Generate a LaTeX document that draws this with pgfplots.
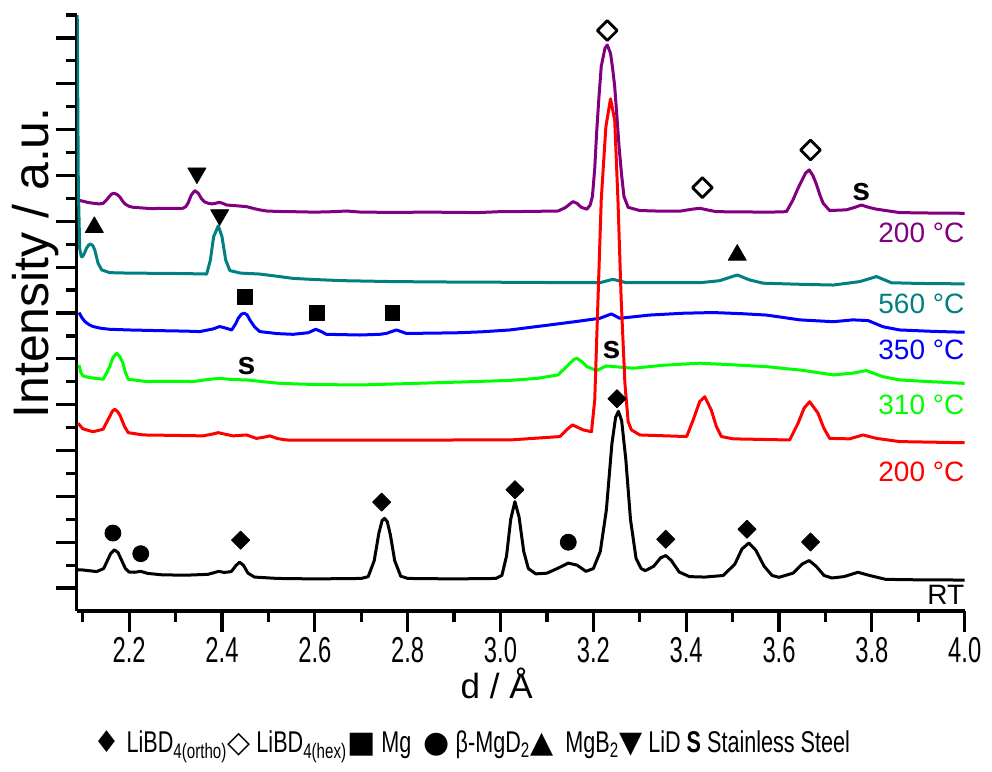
\documentclass[border=0pt]{standalone}
\usepackage{fontspec}
\setmainfont{Liberation Sans}
\newfontfamily\narrowfont[FakeStretch=0.66]{Liberation Sans}
\newfontfamily\legfont[FakeStretch=0.72]{Liberation Sans}
\newfontfamily\symfont{DejaVu Sans}
\usepackage{pgfplots}
\pgfplotsset{compat=1.18}
\definecolor{cpurple}{RGB}{128,0,128}
\definecolor{cteal}{RGB}{0,128,128}
\definecolor{cblue}{RGB}{0,0,255}
\definecolor{cgreen}{RGB}{0,255,0}
\definecolor{cred}{RGB}{255,0,0}
\begin{document}
\begin{tikzpicture}
\begin{axis}[
  name=ax,
  scale only axis, width=444pt, height=298pt,
  xmin=2.087, xmax=4.0, ymin=0, ymax=26,
  axis x line*=bottom, axis y line*=left,
  axis line style={line width=1.8pt, -},
  tick align=outside,
  xtick={2.2,2.4,2.6,2.8,3.0,3.2,3.4,3.6,3.8,4.0},
  xticklabels={2.2,2.4,2.6,2.8,3.0,3.2,3.4,3.6,3.8,4.0},
  minor xtick={2.1,2.3,2.5,2.7,2.9,3.1,3.3,3.5,3.7,3.9},
  ytick={1,3,...,25}, minor ytick={2,4,...,26},
  yticklabels={},
  major tick length=10.5pt, minor tick length=5.5pt,
  every tick/.style={black, line width=1.6pt},
  xticklabel style={font=\narrowfont\fontsize{18}{18}\selectfont, yshift=1pt},
  xlabel={d / Å},
  xlabel style={font=\fontsize{17.5}{17.5}\selectfont, inner sep=0pt, at={(rel axis cs:0.473,-0.122)}, anchor=center},
  ylabel={Intensity / a.u.},
  ylabel style={font=\fontsize{25}{25}\selectfont, at={(rel axis cs:-0.046,0.584)}, anchor=center},
  clip mode=individual,
  every axis plot/.append style={line width=1.5pt, line join=round},
]
% 200 C (purple, upper)
\addplot[cpurple, mark=none] coordinates {
(2.088,17.93)(2.100,17.88)(2.112,17.82)(2.122,17.79)(2.135,17.76)(2.144,17.78)(2.152,17.95)(2.158,18.10)(2.163,18.20)(2.168,18.22)(2.174,18.17)(2.180,18.06)(2.186,17.88)(2.191,17.76)(2.200,17.65)(2.209,17.61)(2.230,17.58)(2.250,17.55)(2.266,17.57)(2.290,17.56)(2.316,17.57)(2.322,17.64)(2.327,17.80)(2.334,18.15)(2.3415,18.34)(2.349,18.22)(2.356,17.98)(2.363,17.84)(2.370,17.79)(2.378,17.76)(2.385,17.78)(2.394,17.83)(2.402,17.78)(2.410,17.71)(2.430,17.68)(2.453,17.64)(2.470,17.55)(2.481,17.50)(2.496,17.45)(2.520,17.43)(2.553,17.42)(2.600,17.40)(2.640,17.42)(2.668,17.45)(2.700,17.40)(2.769,17.39)(2.850,17.40)(2.950,17.38)(2.998,17.42)(3.060,17.43)(3.124,17.45)(3.140,17.60)(3.156,17.86)(3.165,17.78)(3.174,17.61)(3.186,17.53)(3.193,17.70)(3.198,18.08)(3.203,19.3)(3.207,20.84)(3.212,22.4)(3.217,23.75)(3.225,24.55)(3.230,24.69)(3.237,24.33)(3.242,23.6)(3.246,22.88)(3.251,21.5)(3.256,20.11)(3.261,19.0)(3.266,18.08)(3.275,17.61)(3.300,17.47)(3.350,17.44)(3.386,17.44)(3.410,17.52)(3.429,17.57)(3.445,17.50)(3.465,17.42)(3.520,17.41)(3.580,17.40)(3.616,17.42)(3.630,17.93)(3.640,18.40)(3.648,18.73)(3.657,19.10)(3.665,19.24)(3.673,19.00)(3.681,18.59)(3.688,18.15)(3.695,17.79)(3.709,17.47)(3.745,17.50)(3.765,17.62)(3.777,17.71)(3.795,17.60)(3.810,17.53)(3.860,17.38)(3.930,17.36)(4.000,17.35)};
% 560 C (teal)
\addplot[cteal, mark=none] coordinates {
(2.0875,28)(2.0905,18.5)(2.0935,15.8)(2.0970,15.45)(2.0997,15.46)(2.104,15.62)(2.108,15.82)(2.113,15.97)(2.117,16.01)(2.122,15.93)(2.126,15.75)(2.133,15.17)(2.141,14.88)(2.158,14.76)(2.200,14.74)(2.266,14.73)(2.320,14.72)(2.367,14.70)(2.375,15.31)(2.382,16.33)(2.392,16.80)(2.400,16.33)(2.408,15.31)(2.417,14.85)(2.440,14.74)(2.481,14.70)(2.520,14.60)(2.553,14.51)(2.600,14.46)(2.661,14.41)(2.769,14.37)(2.900,14.35)(3.020,14.34)(3.100,14.33)(3.214,14.32)(3.242,14.47)(3.271,14.32)(3.350,14.33)(3.429,14.32)(3.472,14.41)(3.510,14.66)(3.537,14.44)(3.566,14.30)(3.650,14.25)(3.717,14.22)(3.774,14.37)(3.810,14.59)(3.842,14.32)(3.900,14.29)(4.000,14.27)};
% 350 C (blue)
\addplot[cblue, mark=none] coordinates {
(2.092,13.02)(2.098,12.80)(2.105,12.62)(2.113,12.50)(2.122,12.41)(2.140,12.33)(2.158,12.29)(2.200,12.26)(2.266,12.23)(2.320,12.21)(2.352,12.19)(2.380,12.30)(2.395,12.41)(2.410,12.33)(2.421,12.26)(2.430,12.55)(2.435,12.77)(2.442,12.95)(2.448,12.99)(2.454,12.92)(2.460,12.70)(2.470,12.40)(2.481,12.19)(2.520,12.10)(2.553,12.07)(2.586,12.14)(2.602,12.29)(2.615,12.18)(2.625,12.07)(2.697,12.04)(2.740,12.07)(2.754,12.11)(2.776,12.26)(2.797,12.11)(2.850,12.12)(2.912,12.14)(2.960,12.18)(3.020,12.26)(3.106,12.48)(3.160,12.62)(3.214,12.77)(3.239,12.96)(3.257,12.77)(3.321,12.91)(3.394,12.99)(3.458,13.02)(3.520,12.97)(3.573,12.91)(3.645,12.70)(3.717,12.62)(3.759,12.70)(3.792,12.67)(3.824,12.40)(3.860,12.26)(3.930,12.20)(4.000,12.16)};
% 310 C (green)
\addplot[cgreen, mark=none] coordinates {
(2.092,10.73)(2.096,10.40)(2.101,10.25)(2.115,10.18)(2.144,10.11)(2.152,10.40)(2.158,10.66)(2.165,11.05)(2.173,11.24)(2.180,11.10)(2.186,10.85)(2.192,10.40)(2.198,10.11)(2.237,10.01)(2.300,10.02)(2.338,10.01)(2.370,10.10)(2.395,10.15)(2.420,10.10)(2.453,10.08)(2.490,10.00)(2.525,9.93)(2.600,9.88)(2.697,9.86)(2.800,9.92)(2.900,9.98)(3.020,10.06)(3.080,10.15)(3.124,10.30)(3.146,10.73)(3.158,10.98)(3.165,11.02)(3.175,10.88)(3.186,10.66)(3.207,10.49)(3.228,10.69)(3.286,10.59)(3.350,10.72)(3.429,10.81)(3.500,10.74)(3.573,10.66)(3.650,10.50)(3.717,10.30)(3.760,10.38)(3.788,10.49)(3.824,10.22)(3.860,10.08)(3.930,10.00)(4.000,9.93)};
% 200 C (red, lower)
\addplot[cred, mark=none] coordinates {
(2.090,8.19)(2.100,7.95)(2.122,7.82)(2.144,7.93)(2.152,8.25)(2.158,8.48)(2.164,8.72)(2.169,8.80)(2.175,8.70)(2.180,8.55)(2.190,8.05)(2.198,7.78)(2.230,7.68)(2.300,7.66)(2.359,7.64)(2.380,7.72)(2.392,7.78)(2.405,7.72)(2.424,7.64)(2.453,7.68)(2.474,7.53)(2.490,7.58)(2.503,7.64)(2.520,7.52)(2.539,7.46)(2.700,7.45)(2.900,7.46)(3.020,7.46)(3.128,7.61)(3.145,7.95)(3.155,8.12)(3.178,7.90)(3.196,7.82)(3.203,9.21)(3.210,13.57)(3.217,17.93)(3.227,21.13)(3.237,22.34)(3.246,21.42)(3.253,17.93)(3.260,13.57)(3.268,9.93)(3.275,8.26)(3.282,7.90)(3.300,7.68)(3.401,7.61)(3.415,8.33)(3.429,9.13)(3.440,9.35)(3.454,8.77)(3.465,8.05)(3.476,7.61)(3.501,7.51)(3.623,7.46)(3.641,8.19)(3.654,8.85)(3.666,9.13)(3.684,8.63)(3.696,8.00)(3.709,7.53)(3.752,7.51)(3.781,7.68)(3.810,7.53)(3.860,7.39)(4.000,7.34)};
% RT (black)
\addplot[black, mark=none] coordinates {
(2.090,1.80)(2.100,1.79)(2.130,1.72)(2.145,1.85)(2.152,2.15)(2.160,2.50)(2.168,2.67)(2.176,2.55)(2.184,2.20)(2.192,1.85)(2.200,1.70)(2.212,1.69)(2.225,1.73)(2.240,1.64)(2.270,1.58)(2.320,1.56)(2.370,1.60)(2.393,1.73)(2.405,1.68)(2.420,1.72)(2.430,1.98)(2.438,2.13)(2.446,2.00)(2.456,1.65)(2.470,1.48)(2.520,1.42)(2.600,1.40)(2.700,1.42)(2.715,1.50)(2.728,2.20)(2.738,3.40)(2.745,3.95)(2.750,4.04)(2.756,3.90)(2.763,3.30)(2.772,2.20)(2.785,1.52)(2.800,1.42)(2.900,1.40)(2.990,1.42)(3.003,1.55)(3.013,2.40)(3.022,4.00)(3.031,4.77)(3.040,4.10)(3.050,2.60)(3.060,1.85)(3.076,1.62)(3.100,1.65)(3.125,1.88)(3.146,2.09)(3.165,2.00)(3.184,1.73)(3.200,1.85)(3.215,2.60)(3.228,4.40)(3.240,7.30)(3.248,8.45)(3.254,8.71)(3.261,8.30)(3.270,6.60)(3.280,4.00)(3.292,2.30)(3.303,1.85)(3.312,1.76)(3.330,1.95)(3.345,2.32)(3.356,2.42)(3.368,2.20)(3.385,1.70)(3.407,1.50)(3.440,1.48)(3.480,1.55)(3.505,2.05)(3.520,2.70)(3.535,2.97)(3.550,2.65)(3.568,1.95)(3.585,1.55)(3.600,1.47)(3.630,1.65)(3.650,2.05)(3.665,2.20)(3.680,1.95)(3.697,1.55)(3.714,1.44)(3.740,1.50)(3.770,1.69)(3.795,1.55)(3.830,1.38)(3.900,1.36)(4.000,1.35)};
% phase markers
\addplot[only marks, mark=square*, mark size=3.2pt, mark options={rotate=45, fill=black, draw=black, line width=0.4pt}] coordinates {
(2.44,3.09)(2.744,4.75)(3.031,5.29)(3.251,9.26)(3.356,3.13)(3.531,3.57)(3.668,3.01)};
\addplot[only marks, mark=square*, mark size=3.5pt, mark options={rotate=45, fill=white, draw=black, line width=1.4pt}] coordinates {
(3.23,25.32)(3.435,18.47)(3.668,20.11)};
\addplot[only marks, mark=square*, mark size=3.7pt, mark options={fill=black, draw=black, line width=0.4pt}] coordinates {
(2.449,13.71)(2.604,12.99)(2.767,12.99)};
\addplot[only marks, mark=*, mark size=4pt, mark options={fill=black, draw=black, line width=0.4pt}] coordinates {
(2.165,3.40)(2.225,2.50)(3.146,3.0)};
\addplot[only marks, mark=triangle*, mark size=5.2pt, mark options={fill=black, draw=black, line width=0.4pt}] coordinates {
(2.125,16.74)(3.51,15.53)};
\addplot[only marks, mark=triangle*, mark size=5.2pt, mark options={rotate=180, fill=black, draw=black, line width=0.4pt}] coordinates {
(2.346,19.1)(2.395,17.28)};
% stainless steel
\node[font=\bfseries\fontsize{16}{16}\selectfont] at (axis cs:2.453,10.69) {s};
\node[font=\bfseries\fontsize{16}{16}\selectfont] at (axis cs:3.239,11.39) {s};
\node[font=\bfseries\fontsize{16}{16}\selectfont] at (axis cs:3.777,18.29) {s};
% temperature labels
\node[anchor=east, inner sep=0pt, text=cpurple, font=\fontsize{14}{14}\selectfont] at (axis cs:4.0,16.48) {200 °C};
\node[anchor=east, inner sep=0pt, text=cteal, font=\fontsize{14}{14}\selectfont] at (axis cs:4.0,13.42) {560 °C};
\node[anchor=east, inner sep=0pt, text=cblue, font=\fontsize{14}{14}\selectfont] at (axis cs:4.0,11.39) {350 °C};
\node[anchor=east, inner sep=0pt, text=cgreen, font=\fontsize{14}{14}\selectfont] at (axis cs:4.0,8.99) {310 °C};
\node[anchor=east, inner sep=0pt, text=cred, font=\fontsize{14}{14}\selectfont] at (axis cs:4.0,6.08) {200 °C};
\node[anchor=east, inner sep=0pt, text=black, font=\fontsize{14}{14}\selectfont] at (axis cs:4.0,0.70) {RT};
% legend line
\node[anchor=center, font=\legfont\fontsize{15}{15}\selectfont] at (rel axis cs:0.445,-0.228)
 {{\symfont ♦} LiBD\textsubscript{4(ortho)}{\symfont ◇} LiBD\textsubscript{4(hex)}{\symfont ■} Mg\ \ {\symfont ●} β-MgD\textsubscript{2}{\symfont ▲}\ \ MgB\textsubscript{2}{\symfont ▼} LiD \textbf{S} Stainless Steel};
\end{axis}
\pgfresetboundingbox
\useasboundingbox (-38.35pt,-80.5pt) rectangle (457.65pt,305.5pt);
\end{tikzpicture}
\end{document}
